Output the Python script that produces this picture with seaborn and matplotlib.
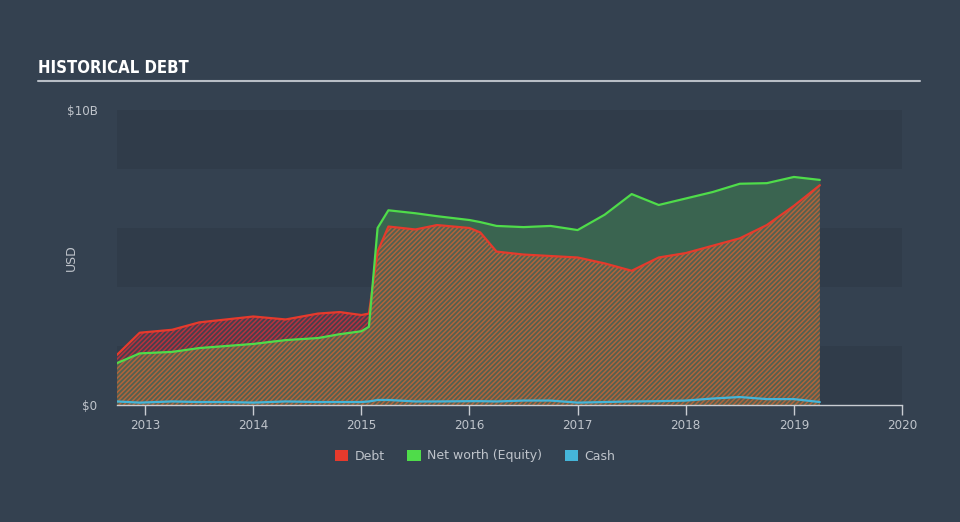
import numpy as np
import pandas as pd
import matplotlib
matplotlib.use("Agg")
import matplotlib.pyplot as plt
import seaborn as sns
from matplotlib.patches import Patch

# ---- data (USD billions) ----
debt_x = [2012.74, 2012.95, 2013.25, 2013.5, 2013.75, 2014.0, 2014.3, 2014.6, 2014.8, 2015.0, 2015.07,
          2015.15, 2015.25, 2015.5, 2015.7, 2016.0, 2016.1, 2016.25, 2016.5, 2016.75, 2017.0, 2017.25,
          2017.5, 2017.75, 2018.0, 2018.25, 2018.5, 2018.75, 2019.0, 2019.24]
debt_y = [1.7, 2.45, 2.55, 2.8, 2.9, 3.0, 2.9, 3.1, 3.15, 3.05, 3.1,
          5.2, 6.05, 5.95, 6.1, 6.0, 5.85, 5.2, 5.1, 5.05, 5.0, 4.8,
          4.55, 5.0, 5.15, 5.4, 5.65, 6.1, 6.75, 7.45]
equity_y = [1.42, 1.75, 1.8, 1.93, 2.0, 2.07, 2.2, 2.27, 2.4, 2.5, 2.65,
            6.0, 6.6, 6.5, 6.4, 6.27, 6.2, 6.07, 6.03, 6.07, 5.93, 6.45,
            7.15, 6.78, 7.0, 7.22, 7.5, 7.52, 7.73, 7.63]
cash_y = [0.12, 0.08, 0.12, 0.1, 0.1, 0.08, 0.12, 0.1, 0.1, 0.1, 0.12,
          0.17, 0.17, 0.12, 0.12, 0.13, 0.13, 0.12, 0.15, 0.15, 0.08, 0.1,
          0.12, 0.13, 0.15, 0.22, 0.27, 0.2, 0.2, 0.1]
series_names = ["Debt", "Net worth (Equity)", "Cash"]
x_ticks = [2013, 2014, 2015, 2016, 2017, 2018, 2019, 2020]
y_tick_labels = ["$0", "$10B"]

BG = "#344150"
BAND = "#303c4a"
DEBT_C = "#e63a2c"
EQ_C = "#4fdc4a"
CASH_C = "#45b5d9"
TXT = "#bfc4cb"

sns.set_theme(style="dark")
plt.rcParams["font.family"] = ["DejaVu Sans"]
plt.rcParams["hatch.linewidth"] = 1.1

fig = plt.figure(figsize=(9.6, 5.22), dpi=100, facecolor=BG)
ax = fig.add_axes([117 / 960, 117 / 522, 785 / 960, 295 / 522])
ax.set_facecolor(BG)

for lo, hi in [(0, 2), (4, 6), (8, 10)]:
    ax.axhspan(lo, hi, color=BAND, lw=0, zorder=0)

x = np.array(debt_x)
d = np.array(debt_y)
e = np.array(equity_y)
c = np.array(cash_y)
low = np.minimum(d, e)

ax.fill_between(x, 0, low, facecolor="#55604f", edgecolor="#b0643c", hatch="///////", lw=0, zorder=1)
ax.fill_between(x, e, d, where=d >= e, interpolate=True, facecolor="#4a3e4c", edgecolor="#b5323e",
                hatch="///////", lw=0, zorder=1)
ax.fill_between(x, d, e, where=e >= d, interpolate=True, facecolor="#3a6450", lw=0, zorder=1)

df = pd.DataFrame({"year": np.concatenate([x, x, x]),
                   "value": np.concatenate([d, e, c]),
                   "series": np.repeat(series_names, len(x))})
sns.lineplot(data=df, x="year", y="value", hue="series", palette=[DEBT_C, EQ_C, CASH_C],
             lw=1.6, ax=ax, legend=False, zorder=3)

ax.set_xlim(2012.74, 2020)
ax.set_ylim(0, 10)
ax.set_xticks(x_ticks)
ax.set_xticklabels([str(t) for t in x_ticks], color=TXT, fontsize=9.5, fontstretch="condensed")
ax.set_yticks([0, 10])
ax.set_yticklabels(y_tick_labels, color=TXT, fontsize=9.5, fontstretch="condensed")
ax.tick_params(axis="x", length=7, width=1, color="#c9cdd3", pad=3, direction="out", bottom=True)
ax.tick_params(axis="y", length=0, pad=14)
ax.set_xlabel("")
ax.set_ylabel("USD", color=TXT, fontsize=9)
ax.yaxis.set_label_coords(-(117 - 78) / 785, 0.5)
for s in ["top", "right", "left"]:
    ax.spines[s].set_visible(False)
ax.spines["bottom"].set_color("#c9cdd3")
ax.spines["bottom"].set_linewidth(1)
ax.grid(False)

fig.text(38 / 960, 1 - 68 / 522, "HISTORICAL DEBT", color="white", fontsize=12, fontweight="bold",
         fontstretch="condensed", va="center", ha="left")
fig.add_artist(plt.Line2D([38 / 960, 920 / 960], [1 - 81 / 522, 1 - 81 / 522], color="#b8bec6", lw=1.5))

handles = [Patch(facecolor=col, edgecolor="none") for col in [DEBT_C, EQ_C, CASH_C]]
leg = fig.legend(handles, series_names, loc="center", bbox_to_anchor=(475 / 960, 1 - 456 / 522),
                 ncol=3, frameon=False, fontsize=9, handlelength=1.1, handleheight=1.0,
                 columnspacing=1.8, handletextpad=0.5)
for t in leg.get_texts():
    t.set_color(TXT)

fig.savefig("out.png", dpi=100, facecolor=BG)
